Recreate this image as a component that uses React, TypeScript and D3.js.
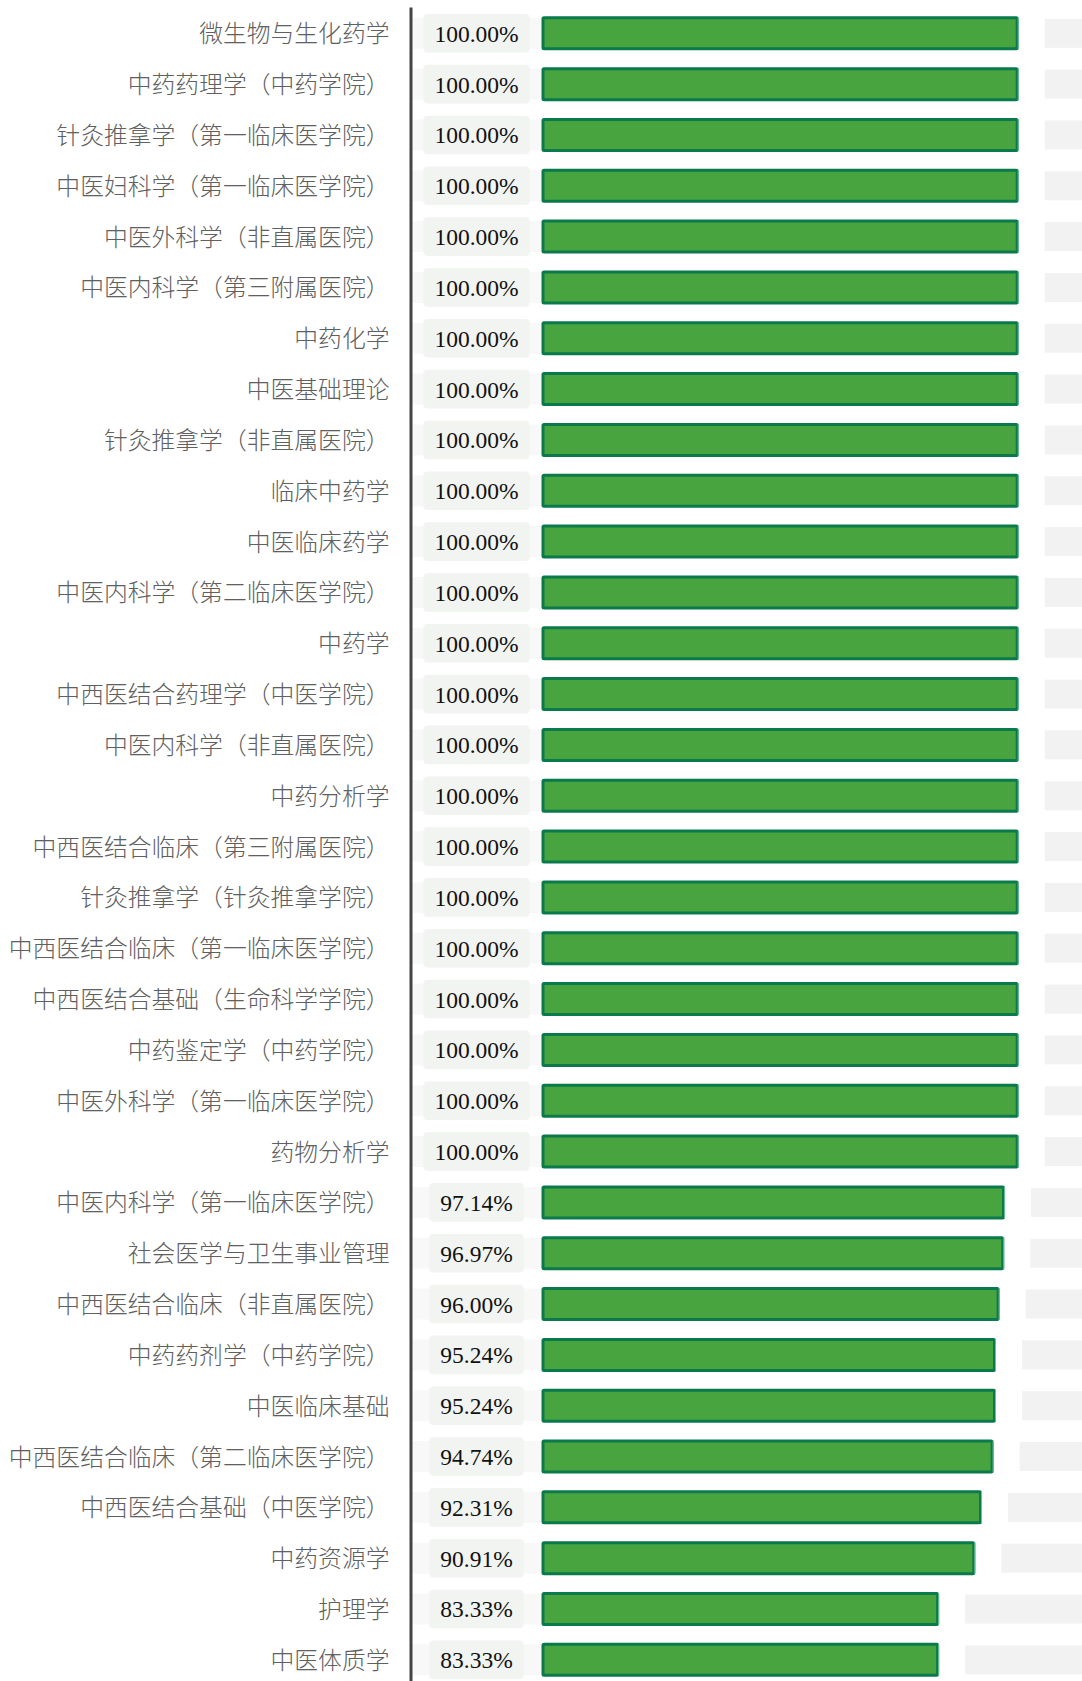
import React, { useEffect, useRef } from "react";
import * as d3 from "d3";

const categories: string[] = [
  "微生物与生化药学",
  "中药药理学（中药学院）",
  "针灸推拿学（第一临床医学院）",
  "中医妇科学（第一临床医学院）",
  "中医外科学（非直属医院）",
  "中医内科学（第三附属医院）",
  "中药化学",
  "中医基础理论",
  "针灸推拿学（非直属医院）",
  "临床中药学",
  "中医临床药学",
  "中医内科学（第二临床医学院）",
  "中药学",
  "中西医结合药理学（中医学院）",
  "中医内科学（非直属医院）",
  "中药分析学",
  "中西医结合临床（第三附属医院）",
  "针灸推拿学（针灸推拿学院）",
  "中西医结合临床（第一临床医学院）",
  "中西医结合基础（生命科学学院）",
  "中药鉴定学（中药学院）",
  "中医外科学（第一临床医学院）",
  "药物分析学",
  "中医内科学（第一临床医学院）",
  "社会医学与卫生事业管理",
  "中西医结合临床（非直属医院）",
  "中药药剂学（中药学院）",
  "中医临床基础",
  "中西医结合临床（第二临床医学院）",
  "中西医结合基础（中医学院）",
  "中药资源学",
  "护理学",
  "中医体质学",
];

const values: number[] = [
  100, 100, 100, 100, 100, 100, 100, 100, 100, 100, 100, 100, 100, 100, 100, 100,
  100, 100, 100, 100, 100, 100, 100, 97.14, 96.97, 96.0, 95.24, 95.24, 94.74,
  92.31, 90.91, 83.33, 83.33,
];

const W = 1082;
const H = 1681;

export default function App() {
  const ref = useRef<SVGSVGElement | null>(null);

  useEffect(() => {
    const svg = d3.select(ref.current);
    svg.selectAll("*").remove();

    const data = categories.map((c, i) => ({ c, v: values[i] }));
    const step = 50.83;
    const y = d3
      .scaleBand<string>()
      .domain(categories)
      .range([33.3 - step / 2, 33.3 - step / 2 + step * categories.length])
      .padding(0);
    const x = d3.scaleLinear().domain([0, 100]).range([541.5, 1018.7]);
    const axisX = 411;
    const boxCx = 476.5;

    const rows = svg
      .selectAll("g.row")
      .data(data)
      .enter()
      .append("g")
      .attr("class", "row")
      .attr("transform", (d) => `translate(0,${(y(d.c) as number) + y.bandwidth() / 2})`);

    // faint band
    rows
      .append("rect")
      .attr("x", axisX)
      .attr("y", -15.5)
      .attr("width", x(0) - axisX)
      .attr("height", 31)
      .attr("fill", "#f8f8f8");

    // remainder gray block
    rows
      .append("rect")
      .attr("x", (d) => x(d.v) + 26)
      .attr("y", -14.5)
      .attr("width", (d) => W - (x(d.v) + 26) + 10)
      .attr("height", 29)
      .attr("fill", "#f2f2f2");

    // green bar
    rows
      .append("rect")
      .attr("x", x(0) + 1.5)
      .attr("y", -15.5)
      .attr("width", (d) => x(d.v) - x(0) - 3)
      .attr("height", 31)
      .attr("rx", 1)
      .attr("fill", "#48a43f")
      .attr("stroke", "#0a7a4c")
      .attr("stroke-width", 3);

    // light right edge of bar
    rows
      .append("line")
      .attr("x1", (d) => x(d.v) - 0.5)
      .attr("x2", (d) => x(d.v) - 0.5)
      .attr("y1", -16)
      .attr("y2", 16)
      .attr("stroke", "#6fbf98")
      .attr("stroke-width", 1);

    // value label box + text
    const labels = rows.append("g");
    const boxes = labels
      .append("rect")
      .attr("y", -19.3)
      .attr("height", 38.6)
      .attr("rx", 4)
      .attr("fill", "#f1f4f0");
    const texts = labels
      .append("text")
      .attr("x", boxCx)
      .attr("y", 0)
      .attr("dy", "0.36em")
      .attr("text-anchor", "middle")
      .attr("font-family", "'Liberation Serif', 'Times New Roman', serif")
      .attr("font-size", 23.5)
      .attr("fill", "#111")
      .text((d) => d.v.toFixed(2) + "%");
    texts.each(function (_d, i) {
      const w = (this as SVGTextElement).getComputedTextLength();
      const bw = w + 22;
      d3.select(boxes.nodes()[i]).attr("x", boxCx - bw / 2).attr("width", bw);
    });

    // category labels
    rows
      .append("text")
      .attr("x", 389.5)
      .attr("y", 0)
      .attr("dy", "0.38em")
      .attr("text-anchor", "end")
      .attr("font-family", "'Noto Sans CJK SC', sans-serif")
      .attr("font-weight", 300)
      .attr("font-size", 23.8)
      .attr("fill", "#606060")
      .text((d) => d.c);

    // axis line
    svg
      .append("line")
      .attr("x1", axisX)
      .attr("x2", axisX)
      .attr("y1", 7.5)
      .attr("y2", H)
      .attr("stroke", "#444")
      .attr("stroke-width", 3);
  }, []);

  return (
    <svg
      ref={ref}
      width={W}
      height={H}
      style={{ position: "absolute", left: 0, top: 0, background: "#fff" }}
    />
  );
}
